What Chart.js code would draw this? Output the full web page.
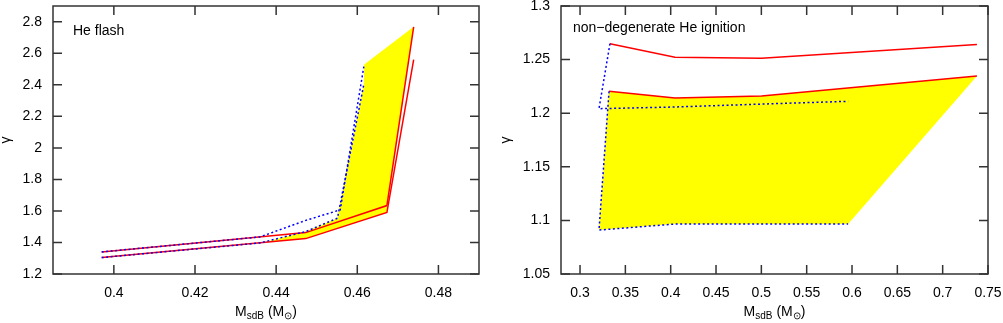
<!DOCTYPE html>
<html><head><meta charset="utf-8">
<script src="https://cdn.jsdelivr.net/npm/chart.js@4.4.0/dist/chart.umd.min.js"></script>
<style>
html,body{margin:0;padding:0;background:#fff;overflow:hidden}
#c1{position:absolute;left:0;top:0}
#c2{position:absolute;left:500px;top:0}
</style>
</head><body>
<canvas id="c1" width="500" height="323"></canvas>
<canvas id="c2" width="503" height="323"></canvas>
<script>
// ---------- Panel 1: He flash ----------
const p1Title = "He flash";
const p1XTicks = [0.4, 0.42, 0.44, 0.46, 0.48];
const p1YTicks = [1.2, 1.4, 1.6, 1.8, 2.0, 2.2, 2.4, 2.6, 2.8];
const p1RedUpperX = [0.397, 0.4473, 0.4673, 0.4739];
const p1RedUpperY = [1.340, 1.4626, 1.634, 2.768];
const p1RedLowerX = [0.397, 0.4473, 0.4673, 0.4739];
const p1RedLowerY = [1.304, 1.4245, 1.590, 2.560];
const p1BlueUpperX = [0.397, 0.436, 0.4473, 0.4558, 0.4617];
const p1BlueUpperY = [1.340, 1.435, 1.540, 1.607, 2.529];
const p1BlueLowerX = [0.397, 0.436, 0.4473, 0.4551, 0.4616];
const p1BlueLowerY = [1.304, 1.397, 1.469, 1.554, 2.401];
const p1FillX = [0.437, 0.4473, 0.4551, 0.4616, 0.4617, 0.4739, 0.4673, 0.4673, 0.4473, 0.437];
const p1FillY = [1.401, 1.469, 1.554, 2.401, 2.529, 2.768, 1.634, 1.590, 1.4245, 1.401];

// ---------- Panel 2: non-degenerate He ignition ----------
const p2Title = "non\u2212degenerate He ignition";
const p2XTicks = [0.3, 0.35, 0.4, 0.45, 0.5, 0.55, 0.6, 0.65, 0.7, 0.75];
const p2YTicks = [1.05, 1.1, 1.15, 1.2, 1.25, 1.3];
const p2RedUpperX = [0.333, 0.4047, 0.5002, 0.7378];
const p2RedUpperY = [1.2648, 1.2521, 1.2512, 1.2642];
const p2RedLowerX = [0.332, 0.4047, 0.5002, 0.7378];
const p2RedLowerY = [1.2204, 1.2142, 1.2160, 1.2347];
const p2BlueUpperX = [0.333, 0.3209, 0.4047, 0.5002, 0.5957];
const p2BlueUpperY = [1.2648, 1.2042, 1.2058, 1.2085, 1.2111];
const p2BlueLowerX = [0.332, 0.3209, 0.4047, 0.5002, 0.5957];
const p2BlueLowerY = [1.2204, 1.0910, 1.0966, 1.0966, 1.0966];
const p2FillX = [0.332, 0.4047, 0.5002, 0.7378, 0.5957, 0.5002, 0.4047, 0.3209, 0.332];
const p2FillY = [1.2204, 1.2142, 1.2160, 1.2347, 1.0966, 1.0966, 1.0966, 1.0910, 1.2204];

const FONT = "'Liberation Sans', Arial, Helvetica, sans-serif";
const pts = (xs, ys) => xs.map((x, i) => ({x: x, y: ys[i]}));
const fmt = v => String(+v.toFixed(4));

const framePlugin = {
  id: 'frame',
  afterDraw(chart, args, opts) {
    const ctx = chart.ctx, a = chart.chartArea;
    const xs = chart.scales.x, ys = chart.scales.y;
    ctx.save();
    ctx.strokeStyle = '#333';
    ctx.lineWidth = 1.5;
    ctx.beginPath();
    for (const v of opts.xt) {
      const px = xs.getPixelForValue(v);
      ctx.moveTo(px, a.bottom); ctx.lineTo(px, a.bottom - 9);
      ctx.moveTo(px, a.top); ctx.lineTo(px, a.top + 9);
    }
    for (const v of opts.yt) {
      const py = ys.getPixelForValue(v);
      ctx.moveTo(a.left, py); ctx.lineTo(a.left + 9, py);
      ctx.moveTo(a.right, py); ctx.lineTo(a.right - 9, py);
    }
    ctx.stroke();
    ctx.strokeRect(a.left, a.top, a.right - a.left, a.bottom - a.top);
    // panel label
    ctx.fillStyle = '#000';
    ctx.font = '14px ' + FONT;
    ctx.textBaseline = 'alphabetic';
    ctx.textAlign = 'left';
    ctx.fillText(opts.title, opts.tx, opts.ty);
    // x axis title with subscripts
    const parts = [['M', 14, 0], ['sdB', 10, 3], [' (M', 14, 0], ['\u2299', 10, 3], [')', 14, 0]];
    let w = 0;
    for (const p of parts) { ctx.font = p[1] + 'px ' + FONT; w += ctx.measureText(p[0]).width; }
    let cx = (a.left + a.right) / 2 - w / 2;
    const base = 316;
    for (const p of parts) {
      ctx.font = p[1] + 'px ' + FONT;
      ctx.fillText(p[0], cx, base + p[2]);
      cx += ctx.measureText(p[0]).width;
    }
    // y axis title
    ctx.save();
    ctx.translate(opts.gx, (a.top + a.bottom) / 2);
    ctx.rotate(-Math.PI / 2);
    ctx.font = '14px ' + FONT;
    ctx.textAlign = 'center';
    ctx.textBaseline = 'middle';
    ctx.fillText('\u03b3', 0, 0);
    ctx.restore();
    ctx.restore();
  }
};

function makeChart(id, d) {
  const tickFont = {family: FONT, size: 14};
  return new Chart(document.getElementById(id), {
    type: 'scatter',
    data: {
      datasets: [
        {data: pts(d.bx1, d.by1), showLine: true, borderColor: '#0000ff', borderWidth: 1.5, borderDash: [2, 2.5], pointRadius: 0, fill: false, order: 1},
        {data: pts(d.bx2, d.by2), showLine: true, borderColor: '#0000ff', borderWidth: 1.5, borderDash: [2, 2.5], pointRadius: 0, fill: false, order: 1},
        {data: pts(d.rx1, d.ry1), showLine: true, borderColor: '#ff0000', borderWidth: 1.5, pointRadius: 0, fill: false, order: 2},
        {data: pts(d.rx2, d.ry2), showLine: true, borderColor: '#ff0000', borderWidth: 1.5, pointRadius: 0, fill: false, order: 2},
        {data: pts(d.fx, d.fy), showLine: true, borderWidth: 0, borderColor: 'rgba(0,0,0,0)', backgroundColor: '#ffff00', pointRadius: 0, fill: 'shape', order: 3}
      ]
    },
    options: {
      responsive: false, animation: false, devicePixelRatio: 1,
      layout: {padding: {top: 6, right: d.pr, left: 0, bottom: 0}},
      plugins: {legend: {display: false}, tooltip: {enabled: false},
        frame: {xt: d.xt, yt: d.yt, title: d.title, tx: d.tx, ty: d.ty, gx: d.gx}},
      scales: {
        x: {type: 'linear', min: d.xmin, max: d.xmax,
          grid: {display: false, drawTicks: false}, border: {display: false},
          afterBuildTicks: s => { s.ticks = d.xt.map(v => ({value: v})); },
          afterFit: s => { s.height = 49; s.paddingLeft = 0; s.paddingRight = 0; },
          ticks: {padding: 11, font: tickFont, color: '#000', maxRotation: 0, autoSkip: false, callback: v => fmt(v)}},
        y: {type: 'linear', min: d.ymin, max: d.ymax,
          grid: {display: false, drawTicks: false}, border: {display: false},
          afterBuildTicks: s => { s.ticks = d.yt.map(v => ({value: v})); },
          afterFit: s => { s.width = d.yw; s.paddingTop = 0; s.paddingBottom = 0; },
          ticks: {padding: 11, font: tickFont, color: '#000', autoSkip: false, callback: v => fmt(v)}}
      }
    },
    plugins: [framePlugin]
  });
}

makeChart('c1', {
  rx1: p1RedUpperX, ry1: p1RedUpperY, rx2: p1RedLowerX, ry2: p1RedLowerY,
  bx1: p1BlueUpperX, by1: p1BlueUpperY, bx2: p1BlueLowerX, by2: p1BlueLowerY,
  fx: p1FillX, fy: p1FillY, xt: p1XTicks, yt: p1YTicks,
  xmin: 0.385, xmax: 0.49, ymin: 1.2, ymax: 2.9,
  pr: 21, yw: 53, title: p1Title, tx: 73, ty: 35, gx: 6
});
makeChart('c2', {
  rx1: p2RedUpperX, ry1: p2RedUpperY, rx2: p2RedLowerX, ry2: p2RedLowerY,
  bx1: p2BlueUpperX, by1: p2BlueUpperY, bx2: p2BlueLowerX, by2: p2BlueLowerY,
  fx: p2FillX, fy: p2FillY, xt: p2XTicks, yt: p2YTicks,
  xmin: 0.279, xmax: 0.75, ymin: 1.05, ymax: 1.3,
  pr: 15, yw: 61, title: p2Title, tx: 73, ty: 32, gx: 6
});
</script>
</body></html>
